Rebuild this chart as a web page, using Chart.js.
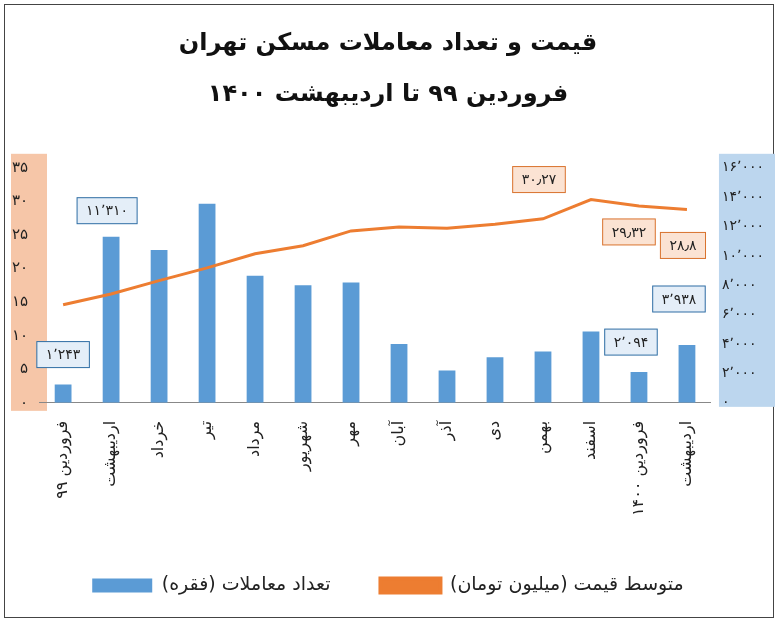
<!DOCTYPE html>
<html><head><meta charset="utf-8">
<script src="https://cdn.jsdelivr.net/npm/chart.js@4"></script>
<style>
body{margin:0;background:#fff}
#wrap{position:absolute;left:4px;top:4px;width:770px;height:614px;border:1px solid #444;box-sizing:border-box}
</style></head><body>
<div id="wrap"><canvas id="c" width="770" height="614"></canvas></div>
<script>
const months = ['فروردین ۹۹','اردیبهشت','خرداد','تیر','مرداد','شهریور','مهر','آبان','آذر','دی','بهمن','اسفند','فروردین ۱۴۰۰','اردیبهشت'];
const deals = [1243, 11310, 10400, 13550, 8650, 8000, 8200, 4000, 2200, 3100, 3500, 4850, 2094, 3938];
const price = [14.6, 16.2, 18.2, 20.1, 22.2, 23.4, 25.6, 26.2, 26.0, 26.6, 27.4, 30.27, 29.32, 28.8];
const dealLabels = {0: '۱٬۲۴۳', 1: '۱۱٬۳۱۰', 12: '۲٬۰۹۴', 13: '۳٬۹۳۸'};
const priceLabels = {11: '۳۰٫۲۷', 12: '۲۹٫۳۲', 13: '۲۸٫۸'};

function fa(s) { return String(s).replace(/\d/g, d => '۰۱۲۳۴۵۶۷۸۹'[d]); }
function faThousands(n) { return fa(n.toString().replace(/\B(?=(\d{3})+(?!\d))/g, '٬')); }

const font = 'DejaVu Sans';

// coloured strips behind the two value axes
const stripes = {
  id: 'stripes',
  beforeDraw(chart) {
    const ctx = chart.ctx, a = chart.chartArea;
    ctx.save();
    ctx.fillStyle = '#f6c6a8';
    ctx.fillRect(6, a.top - 14, 36, a.bottom - a.top + 22);
    ctx.fillStyle = '#bcd6ee';
    ctx.fillRect(a.right + 8, a.top - 14, 72, a.bottom - a.top + 18);
    ctx.restore();
  }
};

// boxed value labels
const boxes = {
  id: 'boxes',
  afterDatasetsDraw(chart) {
    const ctx = chart.ctx;
    ctx.save();
    ctx.font = '14px ' + font;
    ctx.textAlign = 'center';
    ctx.textBaseline = 'middle';
    const draw = (x, y, txt, fill, stroke) => {
      const w = ctx.measureText(txt).width + 18, h = 26;
      ctx.fillStyle = fill; ctx.strokeStyle = stroke; ctx.lineWidth = 1;
      ctx.fillRect(x - w / 2, y - h / 2, w, h);
      ctx.strokeRect(x - w / 2, y - h / 2, w, h);
      ctx.fillStyle = '#222';
      ctx.fillText(txt, x, y + 1);
    };
    const bars = chart.getDatasetMeta(1).data;
    const line = chart.getDatasetMeta(0).data;
    const bOff = {0: [0, -30], 1: [-4, -26], 12: [-8, -30], 13: [-8, -46]};
    for (const i in dealLabels) {
      draw(bars[i].x + bOff[i][0], bars[i].y + bOff[i][1], dealLabels[i], '#e4eef8', '#2e6da4');
    }
    const pOff = {11: [-52, -20], 12: [-10, 26], 13: [-4, 36]};
    for (const i in priceLabels) {
      draw(line[i].x + pOff[i][0], line[i].y + pOff[i][1], priceLabels[i], '#fbe3d3', '#d9722d');
    }
    ctx.restore();
  }
};

new Chart(document.getElementById('c'), {
  data: {
    labels: months,
    datasets: [
      { type: 'line', label: 'متوسط قیمت (میلیون تومان)', data: price, yAxisID: 'yL',
        borderColor: '#ed7d31', backgroundColor: '#ed7d31', borderWidth: 3, pointRadius: 0, pointStyle: 'line', tension: 0, order: 0 },
      { type: 'bar', label: 'تعداد معاملات (فقره)', data: deals, yAxisID: 'yR',
        backgroundColor: '#5b9bd5', barPercentage: 0.35, categoryPercentage: 1, order: 1 }
    ]
  },
  options: {
    responsive: false,
    animation: false,
    layout: { padding: { left: 4, right: 8, top: 0, bottom: 14 } },
    plugins: {
      title: { display: true, text: ['قیمت و تعداد معاملات مسکن تهران', 'فروردین ۹۹ تا اردیبهشت ۱۴۰۰'],
        font: { family: font, size: 24, weight: 'bold', lineHeight: 2.1 }, color: '#111', padding: { top: 14, bottom: 48 } },
      legend: { position: 'bottom',
        labels: { font: { family: font, size: 19 }, color: '#222', boxWidth: 60, boxHeight: 14, padding: 50,
          sort: (a, b) => b.datasetIndex - a.datasetIndex,
          generateLabels: chart => Chart.defaults.plugins.legend.labels.generateLabels(chart).map(l => {
            if (l.datasetIndex === 0) { l.pointStyle = 'line'; l.lineWidth = 4; l.strokeStyle = '#ed7d31'; }
            return l;
          }) } },
      tooltip: { enabled: false }
    },
    scales: {
      x: { grid: { display: false }, border: { color: '#888' },
        ticks: { minRotation: 90, maxRotation: 90, autoSkip: false, color: '#222', font: { family: font, size: 16 }, padding: 10 } },
      yL: { position: 'left', min: 0, max: 35, grid: { display: false }, border: { display: false },
        ticks: { stepSize: 5, color: '#222', font: { family: font, size: 15 }, callback: v => fa(v) } },
      yR: { position: 'right', min: 0, max: 16000, grid: { display: false }, border: { display: false },
        ticks: { stepSize: 2000, color: '#222', font: { family: font, size: 14 }, callback: v => faThousands(v) } }
    }
  },
  plugins: [stripes, boxes]
});
</script>
</body></html>
